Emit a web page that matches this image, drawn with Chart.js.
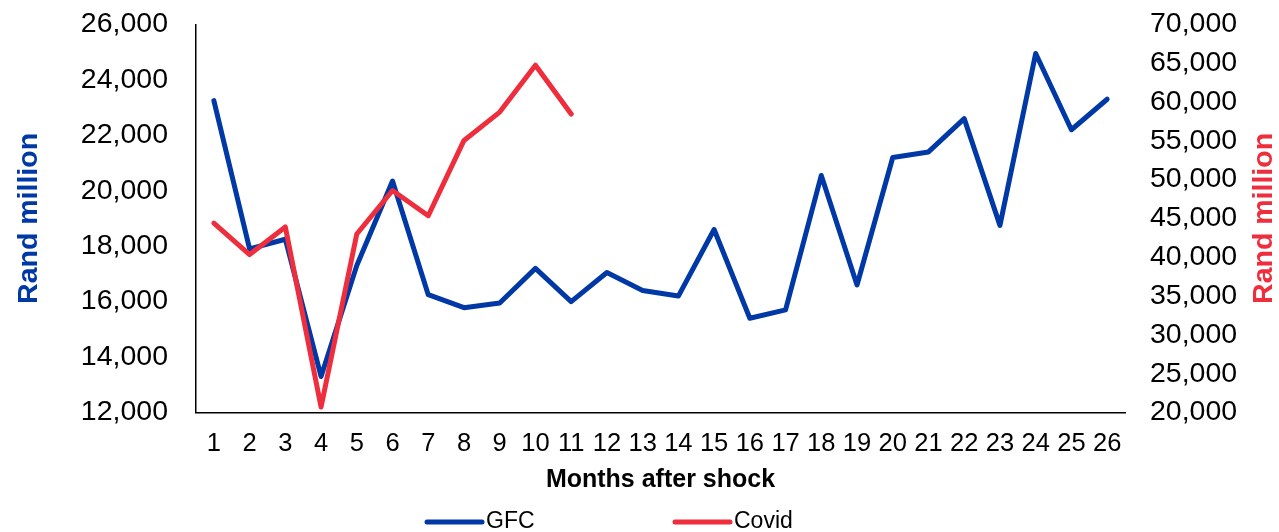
<!DOCTYPE html>
<html>
<head>
<meta charset="utf-8">
<script src="https://cdn.jsdelivr.net/npm/chart.js@4/dist/chart.umd.min.js"></script>
<style>
  html, body { margin: 0; padding: 0; background: #ffffff; }
  #wrap { width: 1279px; height: 532px; position: relative; }
</style>
</head>
<body>
<div id="wrap"><canvas id="c" width="1279" height="532"></canvas></div>
<script>
const months = ['1','2','3','4','5','6','7','8','9','10','11','12','13','14','15','16','17','18','19','20','21','22','23','24','25','26'];
const gfcValues = [23250, 17900, 18250, 13300, 17300, 20350, 16250, 15780, 15950, 17200, 16000, 17050, 16400, 16200, 18600, 15400, 15700, 20550, 16600, 21200, 21400, 22600, 18750, 24950, 22200, 23300];
const covidValues = [44400, 40350, 43900, 20700, 43000, 48600, 45350, 55050, 58700, 64750, 58450, null, null, null, null, null, null, null, null, null, null, null, null, null, null, null];
const seriesNames = ['GFC', 'Covid'];
const leftAxis = { min: 12000, max: 26000, step: 2000, title: 'Rand million' };
const rightAxis = { min: 20000, max: 70000, step: 5000, title: 'Rand million' };
const xTitle = 'Months after shock';

const BLUE = '#0039A6';
const RED = '#EE2D3D';
const FONT = "'Liberation Sans', Arial, sans-serif";

const rightTitlePlugin = {
  id: 'rightTitle',
  afterDraw(chart) {
    const ctx = chart.ctx;
    const a = chart.chartArea;
    ctx.save();
    ctx.translate(1264, (a.top + a.bottom) / 2);
    ctx.rotate(-Math.PI / 2);
    ctx.fillStyle = RED;
    ctx.font = "bold 28.5px " + FONT;
    ctx.textAlign = 'center';
    ctx.textBaseline = 'middle';
    ctx.fillText(rightAxis.title, 0, 0);
    ctx.restore();
  }
};

const legendPlugin = {
  id: 'customLegend',
  afterDraw(chart) {
    const ctx = chart.ctx;
    const starts = [427, 675];
    const y = 522;
    ctx.save();
    chart.data.datasets.forEach((ds, i) => {
      const x0 = starts[i];
      ctx.strokeStyle = ds.borderColor;
      ctx.lineWidth = 5;
      ctx.lineCap = 'round';
      ctx.beginPath();
      ctx.moveTo(x0, y);
      ctx.lineTo(x0 + 55, y);
      ctx.stroke();
      ctx.fillStyle = '#000000';
      ctx.font = "23px " + FONT;
      ctx.textAlign = 'left';
      ctx.textBaseline = 'middle';
      ctx.fillText(ds.label, x0 + 59, y);
    });
    ctx.restore();
  }
};

new Chart(document.getElementById('c'), {
  type: 'line',
  data: {
    labels: months,
    datasets: [
      {
        label: seriesNames[0],
        data: gfcValues,
        yAxisID: 'y',
        borderColor: BLUE,
        backgroundColor: BLUE,
        borderWidth: 5,
        pointRadius: 0,
        tension: 0,
        borderCapStyle: 'round',
        borderJoinStyle: 'round',
        order: 1
      },
      {
        label: seriesNames[1],
        data: covidValues,
        yAxisID: 'y2',
        borderColor: RED,
        backgroundColor: RED,
        borderWidth: 5,
        pointRadius: 0,
        tension: 0,
        borderCapStyle: 'round',
        borderJoinStyle: 'round',
        spanGaps: false,
        order: 0
      }
    ]
  },
  options: {
    responsive: false,
    animation: false,
    devicePixelRatio: 1,
    layout: { padding: { top: 24.4, left: 0, right: 0, bottom: 0 } },
    plugins: {
      legend: { display: false },
      tooltip: { enabled: false },
      title: { display: false }
    },
    scales: {
      x: {
        offset: true,
        grid: { display: false, drawTicks: false },
        border: { display: true, color: '#000000', width: 1.5 },
        ticks: {
          color: '#000000',
          font: { family: FONT, size: 25.5 },
          padding: 16,
          autoSkip: false,
          maxRotation: 0,
          minRotation: 0
        },
        title: {
          display: true,
          text: xTitle,
          color: '#000000',
          font: { family: FONT, size: 25, weight: 'bold' },
          padding: { top: 0, bottom: 37 }
        },
        afterFit(scale) { scale.height = 119.5; }
      },
      y: {
        position: 'left',
        min: leftAxis.min,
        max: leftAxis.max,
        grid: { display: false, drawTicks: false },
        border: { display: true, color: '#000000', width: 1.5 },
        ticks: {
          stepSize: leftAxis.step,
          autoSkip: false,
          color: '#000000',
          font: { family: FONT, size: 28.5 },
          padding: 28
        },
        title: {
          display: true,
          text: leftAxis.title,
          color: BLUE,
          font: { family: FONT, size: 28.5, weight: 'bold' },
          padding: { top: 12, bottom: 0 }
        },
        afterFit(scale) { scale.width = 196; scale.paddingTop = 0; scale.paddingBottom = 0; }
      },
      y2: {
        position: 'right',
        min: rightAxis.min,
        max: rightAxis.max,
        grid: { display: false, drawTicks: false, drawOnChartArea: false },
        border: { display: false },
        ticks: {
          stepSize: rightAxis.step,
          autoSkip: false,
          color: '#000000',
          font: { family: FONT, size: 28.5 },
          padding: 25
        },
        title: { display: false },
        afterFit(scale) { scale.width = 154; scale.paddingTop = 0; scale.paddingBottom = 0; }
      }
    }
  },
  plugins: [rightTitlePlugin, legendPlugin]
});
</script>
</body>
</html>
